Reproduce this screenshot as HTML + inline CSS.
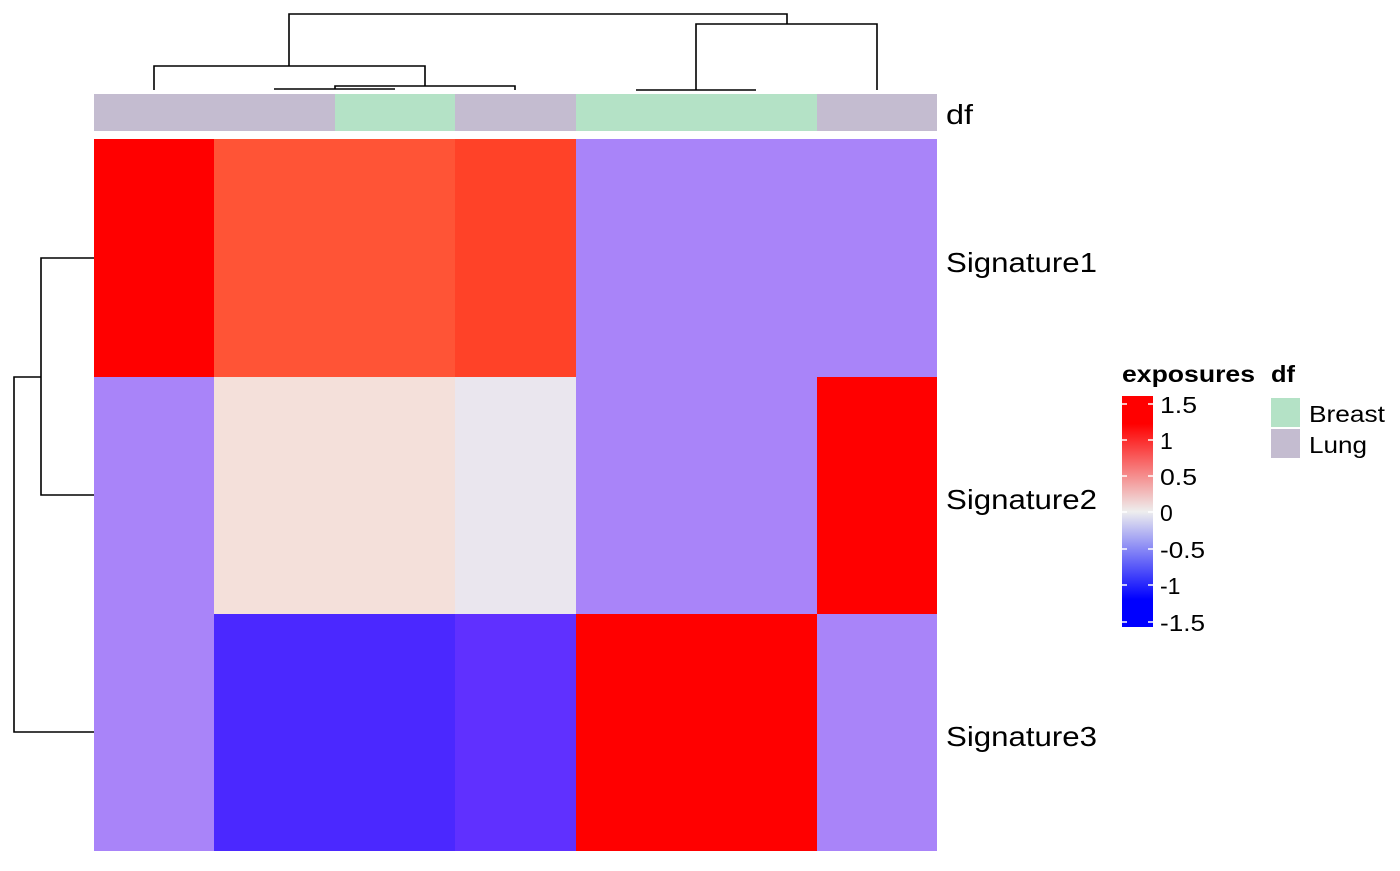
<!DOCTYPE html>
<html><head><style>
body{margin:0;background:#fff;}
svg text{font-family:"Liberation Sans",Arial,sans-serif;}
</style></head><body>
<svg width="1400" height="866" viewBox="0 0 1400 866" xmlns="http://www.w3.org/2000/svg">
<defs>
<linearGradient id="g" x1="0" y1="1" x2="0" y2="0">
<stop offset="0" stop-color="#0000FF"/>
<stop offset="0.12" stop-color="#0000FF"/>
<stop offset="0.5" stop-color="#EEEEEE"/>
<stop offset="0.88" stop-color="#FF0000"/>
<stop offset="1" stop-color="#FF0000"/>
</linearGradient>
</defs>
<rect x="94" y="94" width="241" height="37" fill="#C4BCD0"/>
<rect x="335" y="94" width="120.5" height="37" fill="#B4E2C6"/>
<rect x="455" y="94" width="121" height="37" fill="#C4BCD0"/>
<rect x="576" y="94" width="241" height="37" fill="#B4E2C6"/>
<rect x="817" y="94" width="120" height="37" fill="#C4BCD0"/>
<text x="946" y="124" font-size="28" textLength="27" lengthAdjust="spacingAndGlyphs">df</text>
<rect x="94" y="139" width="121" height="238" fill="#FF0000"/>
<rect x="214" y="139" width="242" height="238" fill="#FF5436"/>
<rect x="455" y="139" width="121" height="238" fill="#FF4228"/>
<rect x="576" y="139" width="361" height="238" fill="#A984F9"/>
<rect x="94" y="377" width="121" height="238" fill="#A984F9"/>
<rect x="214" y="377" width="242" height="238" fill="#F4E0DA"/>
<rect x="455" y="377" width="121" height="238" fill="#EAE6EE"/>
<rect x="576" y="377" width="241" height="238" fill="#A984F9"/>
<rect x="817" y="377" width="120" height="238" fill="#FF0000"/>
<rect x="94" y="614" width="121" height="237" fill="#A984F9"/>
<rect x="214" y="614" width="242" height="237" fill="#4B28FF"/>
<rect x="455" y="614" width="121" height="237" fill="#6030FF"/>
<rect x="576" y="614" width="241" height="237" fill="#FF0000"/>
<rect x="817" y="614" width="120" height="237" fill="#A984F9"/>
<text x="946" y="272" font-size="28" textLength="151" lengthAdjust="spacingAndGlyphs">Signature1</text>
<text x="946" y="509" font-size="28" textLength="151" lengthAdjust="spacingAndGlyphs">Signature2</text>
<text x="946" y="746" font-size="28" textLength="151" lengthAdjust="spacingAndGlyphs">Signature3</text>
<g stroke="#000" stroke-width="1.6" fill="none">
<path d="M289 66V14H787V24"/>
<path d="M154 90V66H425V86"/>
<path d="M335 89V86H515V90"/>
<path d="M274 89H395"/>
<path d="M696 90V24H877V90"/>
<path d="M636 90H756"/>
<path d="M94 732H14V377H41"/>
<path d="M94 258H41V495H94"/>
</g>
<text x="1122" y="382" font-size="23" font-weight="bold" textLength="133" lengthAdjust="spacingAndGlyphs">exposures</text>
<text x="1271" y="382" font-size="23" font-weight="bold" textLength="24" lengthAdjust="spacingAndGlyphs">df</text>
<rect x="1122" y="396" width="31" height="231" fill="url(#g)"/>
<g stroke="#fff" stroke-width="1.5">
<path d="M1122 404h5M1148 404h5M1122 440h5M1148 440h5M1122 476h5M1148 476h5M1122 512h5M1148 512h5M1122 549h5M1148 549h5M1122 585h5M1148 585h5M1122 622h5M1148 622h5"/>
</g>
<g font-size="23">
<text x="1160" y="413" textLength="37" lengthAdjust="spacingAndGlyphs">1.5</text>
<text x="1160" y="449">1</text>
<text x="1160" y="485" textLength="37" lengthAdjust="spacingAndGlyphs">0.5</text>
<text x="1160" y="521">0</text>
<text x="1160" y="558" textLength="45" lengthAdjust="spacingAndGlyphs">-0.5</text>
<text x="1160" y="594">-1</text>
<text x="1160" y="631" textLength="45" lengthAdjust="spacingAndGlyphs">-1.5</text>
</g>
<rect x="1271" y="398" width="29" height="29" fill="#B4E2C6"/>
<rect x="1271" y="429" width="29" height="29" fill="#C4BCD0"/>
<text x="1309" y="422" font-size="23" textLength="76" lengthAdjust="spacingAndGlyphs">Breast</text>
<text x="1309" y="453" font-size="23" textLength="58" lengthAdjust="spacingAndGlyphs">Lung</text>
</svg>
</body></html>
